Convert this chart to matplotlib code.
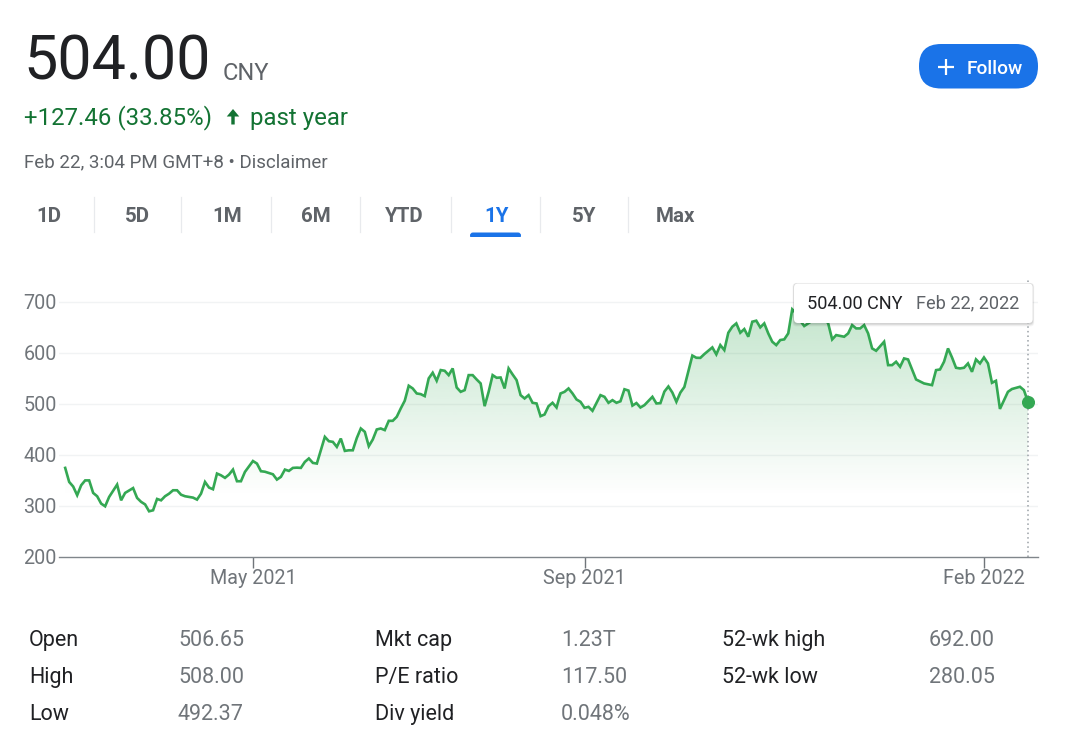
import numpy as np
import matplotlib
matplotlib.use("Agg")
import matplotlib.pyplot as plt
from matplotlib.patches import FancyBboxPatch
from matplotlib.colors import to_rgb

plt.rcParams['font.family'] = ['Roboto', 'DejaVu Sans']

# ---------------- data ----------------
# trading-session index (0 = Feb 22 2021) and closing price (CNY)
session = [2, 3, 4, 5, 6, 7, 8, 9, 10, 11, 12, 13, 15, 16, 17, 19, 20, 21, 22, 23,
           24, 25, 26, 27, 28, 29, 30, 31, 32, 34, 35, 36, 37, 38, 39, 40, 41, 42, 43, 44,
           45, 46, 47, 49, 50, 51, 52, 54, 55, 56, 57, 58, 59, 60, 61, 62, 63, 64, 65, 67,
           68, 69, 70, 71, 72, 73, 74, 75, 76, 77, 78, 79, 80, 81, 82, 83, 84, 85, 86, 87,
           88, 89, 90, 91, 92, 93, 94, 95, 96, 97, 98, 99, 100, 101, 102, 103, 104, 105, 106, 107,
           108, 109, 110, 111, 112, 113, 114, 115, 116, 117, 118, 119, 120, 121, 122, 123, 124, 125, 126, 127,
           128, 129, 130, 131, 132, 133, 134, 136, 137, 138, 139, 140, 141, 142, 143, 144, 145, 146, 147, 149,
           150, 151, 152, 153, 154, 155, 156, 157, 159, 160, 161, 162, 163, 164, 165, 166, 167, 168, 169, 170,
           171, 172, 173, 174, 175, 176, 177, 178, 179, 180, 181, 182, 183, 184, 185, 186, 187, 188, 190, 191,
           192, 193, 194, 195, 197, 198, 199, 200, 201, 202, 203, 204, 205, 207, 208, 209, 210, 211, 212, 213,
           215, 217, 219, 220, 221, 222, 223, 224, 225, 226, 227, 228, 229, 230, 231, 232, 233, 234, 235, 236,
           238, 239, 241, 242, 243]
price = [374.5, 347.0, 338.0, 321.0, 340.5, 350.0, 350.0, 325.5, 319.0, 304.6, 299.3, 317.6, 341.8, 311.0, 325.5, 335.0, 315.7, 308.0, 303.0, 289.5,
         291.5, 313.7, 311.0, 319.0, 324.0, 330.7, 330.7, 322.0, 319.0, 316.3, 312.4, 324.0, 347.0, 336.0, 332.7, 363.4, 360.0, 355.0, 361.4, 371.2,
         348.4, 348.4, 366.7, 388.0, 383.0, 368.0, 367.0, 362.0, 351.6, 356.9, 371.2, 368.6, 374.5, 375.0, 374.5, 386.3, 393.0, 384.3, 383.0, 435.3,
         426.8, 425.5, 415.7, 432.0, 407.8, 409.0, 409.0, 433.0, 451.7, 445.2, 417.0, 430.1, 449.8, 451.7, 448.5, 466.7, 466.7, 474.6, 490.9, 506.0,
         535.4, 530.1, 520.3, 519.0, 515.1, 549.8, 560.9, 545.2, 566.1, 564.7, 556.2, 569.3, 532.0, 523.5, 526.8, 556.2, 556.2, 547.7, 539.9, 495.4,
         523.5, 556.2, 551.0, 551.6, 530.1, 569.3, 557.5, 546.4, 517.0, 510.5, 517.0, 502.0, 500.7, 475.8, 479.1, 495.4, 502.0, 492.8, 520.3, 523.5,
         530.1, 520.3, 508.5, 503.9, 492.2, 494.1, 486.3, 517.0, 513.7, 502.0, 507.2, 502.0, 505.0, 528.5, 526.0, 496.5, 501.5, 492.8, 497.4, 513.7,
         500.7, 501.3, 524.0, 534.0, 522.0, 504.0, 522.0, 533.0, 594.5, 590.2, 590.0, 597.4, 604.0, 610.5, 596.8, 615.0, 605.2, 639.2, 651.0, 657.5,
         639.2, 646.4, 631.4, 660.8, 662.8, 649.7, 657.5, 637.9, 621.6, 615.0, 624.9, 626.2, 637.9, 685.0, 677.1, 662.8, 652.3, 657.5, 668.0, 675.0,
         668.0, 657.5, 626.1, 634.6, 631.4, 637.9, 654.2, 647.7, 647.7, 654.2, 637.9, 608.5, 603.9, 621.6, 575.8, 575.8, 582.4, 572.5, 588.9, 586.9,
         547.7, 539.9, 536.6, 566.0, 567.3, 582.4, 608.5, 590.8, 570.6, 569.3, 570.6, 579.1, 562.7, 587.0, 579.1, 590.8, 579.1, 541.2, 545.1, 490.0,
         523.5, 529.0, 533.4, 526.8, 504.0]

x_tick_sessions = [49, 132, 232]
x_tick_labels = ['May 2021', 'Sep 2021', 'Feb 2022']
y_ticks = [200, 300, 400, 500, 600, 700]

current_price = '504.00'
currency = 'CNY'
change_text = '+127.46 (33.85%)'
period_text = 'past year'
timestamp_text = 'Feb 22, 3:04 PM GMT+8 \u2022 Disclaimer'
tooltip_price = '504.00 CNY'
tooltip_date = 'Feb 22, 2022'
tabs = ['1D', '5D', '1M', '6M', 'YTD', '1Y', '5Y', 'Max']
active_tab = '1Y'

stat_labels = [['Open', 'High', 'Low'],
               ['Mkt cap', 'P/E ratio', 'Div yield'],
               ['52-wk high', '52-wk low']]
stat_values = [['506.65', '508.00', '492.37'],
               ['1.23T', '117.50', '0.048%'],
               ['692.00', '280.05']]

# ---------------- styles ----------------
GREEN_LINE = '#34a853'
GREEN_TEXT = '#137333'
BLUE = '#1a73e8'
DARK = '#202124'
GRAY = '#5f6368'
LGRAY = '#70757a'

W, H = 1080, 748
fig = plt.figure(figsize=(W / 100, H / 100), dpi=100)
fig.patch.set_facecolor('white')

# ---------------- chart ----------------
ax_left, ax_right, ax_top, ax_bottom = 59, 1038.3, 280, 557
ax = fig.add_axes([ax_left / W, 1 - ax_bottom / H, (ax_right - ax_left) / W, (ax_bottom - ax_top) / H])
xmin, xmax = 0.45, 245.6
ymin, ymax = 200, 742.5

# gradient fill under the line
n = 300
vals = np.linspace(ymin, ymax, n)
alpha = np.clip((vals - 320) / (700 - 320), 0, 1) * 0.30
img = np.zeros((n, 1, 4))
img[..., :3] = to_rgb(GREEN_LINE)
img[..., 3] = alpha[:, None]
im = ax.imshow(img, extent=[xmin, xmax, ymin, ymax], origin='lower', aspect='auto',
               interpolation='bilinear', zorder=1)
poly = ax.fill_between(session, price, ymin, facecolor='none', edgecolor='none')
im.set_clip_path(poly.get_paths()[0], transform=ax.transData)

for yv in y_ticks[1:]:
    ax.axhline(yv, color='#f1f3f4', lw=1.0, zorder=0.5)

ax.plot(session, price, color=GREEN_LINE, lw=1.9, solid_joinstyle='miter', zorder=3)
ax.vlines(session[-1], ymin, ymax, colors='#9aa0a6', lw=1.1, linestyles=(0, (1, 2)), zorder=2)
ax.plot(session[-1], price[-1], 'o', ms=8.4, color=GREEN_LINE, zorder=4)

ax.set_xlim(xmin, xmax)
ax.set_ylim(ymin, ymax)
ax.set_facecolor('none')
for s in ['top', 'left', 'right']:
    ax.spines[s].set_visible(False)
ax.spines['bottom'].set_color('#80868b')
ax.spines['bottom'].set_linewidth(1.0)
ax.set_xticks(x_tick_sessions)
ax.set_xticklabels(x_tick_labels)
ax.set_yticks(y_ticks)
ax.set_yticklabels([str(v) for v in y_ticks])
ax.tick_params(axis='x', direction='out', length=7.6, width=1.0, color='#70757a',
               labelsize=14.2, labelcolor=LGRAY, pad=1.0)
ax.tick_params(axis='y', length=0, labelsize=14.2, labelcolor=LGRAY, pad=1.5)

# ---------------- UI overlay ----------------
ui = fig.add_axes([0, 0, 1, 1])
ui.set_xlim(0, W)
ui.set_ylim(H, 0)
ui.axis('off')
ui.set_zorder(5)

ui.text(23, 79.5, current_price, fontsize=44, color=DARK, va='baseline', ha='left')
ui.text(223, 79.5, currency, fontsize=17, color=GRAY, va='baseline', ha='left')

ui.text(24, 124.5, change_text, fontsize=17.3, color=GREEN_TEXT, va='baseline', ha='left')
ui.arrow(233, 124.5, 0, -8, width=3.4, head_width=12.5, head_length=7.5, color=GREEN_TEXT,
         length_includes_head=False, lw=0)
ui.text(250, 124.5, period_text, fontsize=17.3, color=GREEN_TEXT, va='baseline', ha='left')

ui.text(24, 167, timestamp_text, fontsize=13.5, color=GRAY, va='baseline', ha='left')

# Follow button
ui.add_patch(FancyBboxPatch((919, 44), 119, 44.5, boxstyle='round,pad=0,rounding_size=22',
                            facecolor=BLUE, edgecolor='none'))
ui.plot([937.5, 953.5], [66.5, 66.5], color='white', lw=1.6, solid_capstyle='butt')
ui.plot([945.5, 945.5], [58.5, 74.5], color='white', lw=1.6, solid_capstyle='butt')
ui.text(966.5, 66.5, 'Follow', fontsize=13.8, color='white', va='center_baseline', ha='left',
        fontweight='medium')

# tabs
tab_centers = [48.9, 137.8, 227.3, 315.7, 404.7, 496.3, 584.0, 675.8]
separators = [94.1, 181.4, 270.9, 359.5, 451.3, 540.4, 628.1]
for lbl, cx in zip(tabs, tab_centers):
    ui.text(cx, 221.7, lbl, fontsize=14.8, fontweight='bold',
            color=BLUE if lbl == active_tab else GRAY, ha='center', va='baseline')
for sx in separators:
    ui.plot([sx, sx], [197, 232], color='#e8eaed', lw=0.9)
ui.add_patch(FancyBboxPatch((470, 232.5), 51, 6, boxstyle='round,pad=0,rounding_size=3',
                            facecolor=BLUE, edgecolor='none'))
ui.add_patch(plt.Rectangle((468, 236.5), 55, 4, facecolor='white', edgecolor='none'))

# tooltip
for k, a in [(3, 0.04), (2, 0.06), (1, 0.08)]:
    ui.add_patch(FancyBboxPatch((794 - k * 0.5, 283.5 - k * 0.2), 238.7 + k, 40 + k * 1.2,
                                boxstyle='round,pad=0,rounding_size=4',
                                facecolor='black', alpha=a, edgecolor='none'))
ui.add_patch(FancyBboxPatch((794, 283.5), 238.7, 39.5, boxstyle='round,pad=0,rounding_size=4',
                            facecolor='white', edgecolor='none'))
ui.text(807, 308.5, tooltip_price, fontsize=13.1, color=DARK, va='baseline', ha='left')
ui.text(1019.5, 308.5, tooltip_date, fontsize=13.1, color=GRAY, va='baseline', ha='right')

# stats table
label_x = [29, 375, 722]
value_x = [178, 561, 929]
row_y = [646, 683, 720]
for c in range(3):
    for r, (lab, val) in enumerate(zip(stat_labels[c], stat_values[c])):
        ui.text(label_x[c], row_y[r], lab, fontsize=15.5, color=DARK, va='baseline', ha='left')
        ui.text(value_x[c], row_y[r], val, fontsize=15.5, color=LGRAY, va='baseline', ha='left')

fig.savefig('out.png', dpi=100, facecolor='white')
